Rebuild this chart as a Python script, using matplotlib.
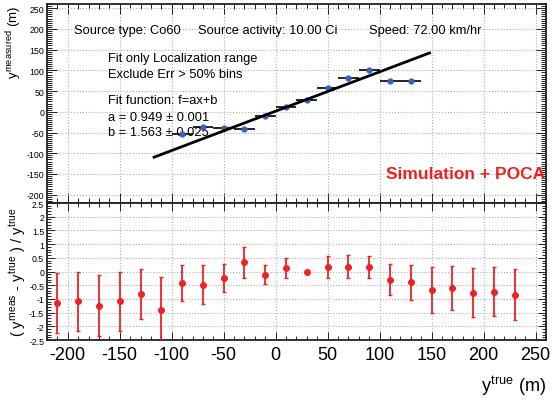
import numpy as np
import matplotlib
matplotlib.use('Agg')
import matplotlib.pyplot as plt
from matplotlib.ticker import MultipleLocator

plt.rcParams['font.family'] = ['Liberation Sans', 'DejaVu Sans']
plt.rcParams['mathtext.fontset'] = 'custom'
plt.rcParams['mathtext.rm'] = 'Liberation Sans'
plt.rcParams['mathtext.it'] = 'Liberation Sans'
plt.rcParams['mathtext.bf'] = 'Liberation Sans:bold'
plt.rcParams['axes.unicode_minus'] = False

# top panel: measured vs true position (bins used in the fit)
y_true_top = [-90, -70, -50, -30, -10, 10, 30, 50, 70, 90, 110, 130]
y_meas_top = [-53, -36, -38, -41, -10, 11, 29, 57, 81, 102, 75, 75]
bin_half = 10

# fit result
fit_a = 0.949
fit_b = 1.563
fit_lo, fit_hi = -117, 148

# bottom panel: relative residual per bin
y_true_bot = [-210, -190, -170, -150, -130, -110, -90, -70, -50, -30, -10,
              10, 30, 50, 70, 90, 110, 130, 150, 170, 190, 210, 230]
resid = [-1.15, -1.09, -1.25, -1.09, -0.82, -1.41, -0.42, -0.49, -0.24, 0.33, -0.11,
         0.13, 0.0, 0.16, 0.18, 0.17, -0.30, -0.40, -0.67, -0.61, -0.77, -0.73, -0.84]
resid_err = [1.09, 1.07, 1.12, 1.07, 0.93, 1.2, 0.67, 0.71, 0.52, 0.58, 0.35,
             0.35, 0.0, 0.40, 0.42, 0.40, 0.56, 0.65, 0.84, 0.80, 0.90, 0.88, 0.93]

blue = '#3a5fc0'
red = '#ee2222'

fig = plt.figure(figsize=(5.52, 4.02), dpi=100)
ax1 = fig.add_axes([0.0851, 0.4925, 0.904, 0.495])
ax2 = fig.add_axes([0.0851, 0.1517, 0.904, 0.3408])


def root_style(ax, major_len=7, minor_len=3.5):
    ax.tick_params(which='both', direction='in', top=True, right=True, width=0.7, color='#222222')
    ax.tick_params(which='major', length=major_len)
    ax.tick_params(which='minor', length=minor_len)
    for s in ax.spines.values():
        s.set_linewidth(1.3)
        s.set_color('#222222')
    ax.grid(True, which='major', linestyle=':', color='#b0b0b0', linewidth=0.8)
    ax.set_axisbelow(True)


# ---- top panel ----
ax1.errorbar(y_true_top, y_meas_top, xerr=bin_half, fmt='o', color=blue, ms=3.5,
             ecolor='black', elinewidth=1.2, capsize=0, zorder=3)
xs = np.linspace(fit_lo, fit_hi, 50)
ax1.plot(xs, fit_a * xs + fit_b, color='black', lw=2, zorder=4)
ax1.set_xlim(-220, 260)
ax1.set_ylim(-220, 260)
ax1.xaxis.set_major_locator(MultipleLocator(50))
ax1.xaxis.set_minor_locator(MultipleLocator(10))
ax1.yaxis.set_major_locator(MultipleLocator(50))
ax1.yaxis.set_minor_locator(MultipleLocator(5))
root_style(ax1)
ax1.tick_params(labelbottom=False, labelsize=6.3, pad=2)
ax1.set_ylabel(r'$y^{measured}$ (m)', fontsize=9.5, loc='top', labelpad=2)

fs = 9.3
ax1.text(-194, 197, 'Source type: Co60', fontsize=fs, va='center')
ax1.text(-75, 197, 'Source activity: 10.00 Ci', fontsize=fs, va='center')
ax1.text(90, 197, 'Speed: 72.00 km/hr', fontsize=fs, va='center')
ax1.text(-161, 130, 'Fit only Localization range', fontsize=fs, va='center')
ax1.text(-161, 91, 'Exclude Err > 50% bins', fontsize=fs, va='center')
ax1.text(-161, 29, 'Fit function: f=ax+b', fontsize=fs, va='center')
ax1.text(-161, -12, 'a = %.3f \u00b1 0.001' % fit_a, fontsize=fs, va='center')
ax1.text(-161, -48, 'b = %.3f \u00b1 0.025' % fit_b, fontsize=fs, va='center')
ax1.text(259, -149, 'Simulation + POCA', fontsize=12.5, fontweight='bold', color=red,
         ha='right', va='center')

# ---- bottom panel ----
ax2.errorbar(y_true_bot, resid, yerr=resid_err, fmt='o', color=red, ms=4,
             ecolor=red, elinewidth=1.3, capsize=1.2, zorder=3)
ax2.set_xlim(-220, 260)
ax2.set_ylim(-2.5, 2.5)
ax2.xaxis.set_major_locator(MultipleLocator(50))
ax2.xaxis.set_minor_locator(MultipleLocator(10))
ax2.yaxis.set_major_locator(MultipleLocator(0.5))
ax2.yaxis.set_minor_locator(MultipleLocator(0.1))
root_style(ax2, major_len=6, minor_len=3)
ax2.tick_params(axis='y', labelsize=6.3, pad=2)
ax2.tick_params(axis='x', labelsize=13, pad=4)
ax2.yaxis.set_major_formatter(matplotlib.ticker.FuncFormatter(lambda v, p: ('%g' % v)))
ax2.set_ylabel(r'( $y^{meas}$ - $y^{true}$ ) / $y^{true}$', fontsize=10.5, labelpad=1)
ax2.set_xlabel(r'$y^{true}$ (m)', fontsize=13, loc='right', labelpad=8)

fig.savefig('out.png', dpi=100)
